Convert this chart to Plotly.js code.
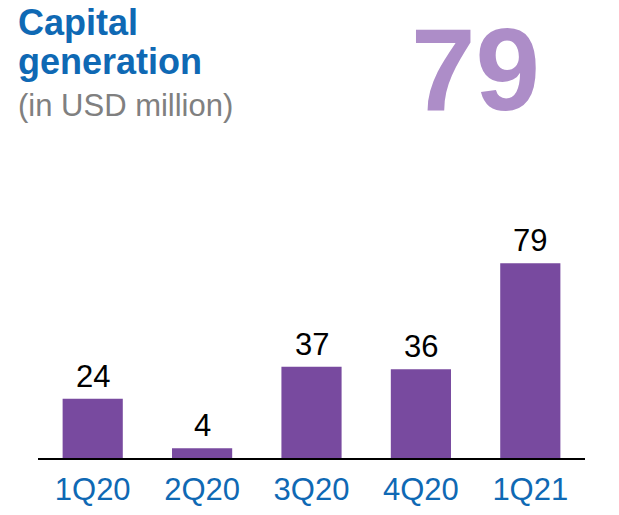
<!DOCTYPE html>
<html>
<head>
<meta charset="utf-8">
<script src="https://cdn.plot.ly/plotly-3.0.1.min.js"></script>
<style>html,body{margin:0;padding:0;background:#fff;}#chart{width:619px;height:515px;}</style>
</head>
<body>
<div id="chart"></div>
<script>
const quarters = ["1Q20", "2Q20", "3Q20", "4Q20", "1Q21"];
const capitalGeneration = [24, 4, 37, 36, 79];
const headlineValue = "79";
const titleLine1 = "Capital";
const titleLine2 = "generation";
const subtitle = "(in USD million)";

const FONT = "Liberation Sans, Arial, sans-serif";
const BLUE = "#0f69b4";
const BAR = "#784a9f";
const LIGHT = "#ad8dc8";

const trace = {
  type: "bar",
  x: quarters,
  y: capitalGeneration,
  marker: { color: BAR, line: { width: 0 } },
  hoverinfo: "none"
};

const labelAnns = quarters.map((q, i) => ({
  x: q, y: capitalGeneration[i], xref: "x", yref: "y",
  text: String(capitalGeneration[i]),
  showarrow: false, yanchor: "bottom", yshift: 3,
  font: { family: FONT, size: 31, color: "#000" }
}));

const textAnns = [
  { text: "<b>" + titleLine1 + "</b>", x: -0.0402, y: 1.688, font: { family: FONT, size: 36, color: BLUE } },
  { text: "<b>" + titleLine2 + "</b>", x: -0.0402, y: 1.538, font: { family: FONT, size: 36, color: BLUE } },
  { text: subtitle, x: -0.0402, y: 1.365, font: { family: FONT, size: 31, color: "#808080" } }
].map(a => Object.assign({ xref: "paper", yref: "paper", xanchor: "left", yanchor: "middle", showarrow: false }, a));

textAnns.push({
  text: "<b>" + headlineValue + "</b>", x: 0.799, y: 1.504, xref: "paper", yref: "paper",
  xanchor: "center", yanchor: "middle", showarrow: false,
  font: { family: FONT, size: 116, color: LIGHT }
});

const layout = {
  width: 619, height: 515,
  margin: { l: 38, r: 34, t: 200, b: 57 },
  paper_bgcolor: "#fff", plot_bgcolor: "#fff",
  showlegend: false,
  bargap: 0.45,
  xaxis: {
    showline: true, linecolor: "#000", linewidth: 2,
    ticks: "", showgrid: false, zeroline: false,
    ticklabelstandoff: 3,
    tickfont: { family: FONT, size: 31, color: BLUE },
    fixedrange: true
  },
  yaxis: {
    visible: false, range: [0, 104.7], showgrid: false, zeroline: false, fixedrange: true
  },
  annotations: labelAnns.concat(textAnns)
};

Plotly.newPlot("chart", [trace], layout, { displayModeBar: false, staticPlot: true });
</script>
</body>
</html>
